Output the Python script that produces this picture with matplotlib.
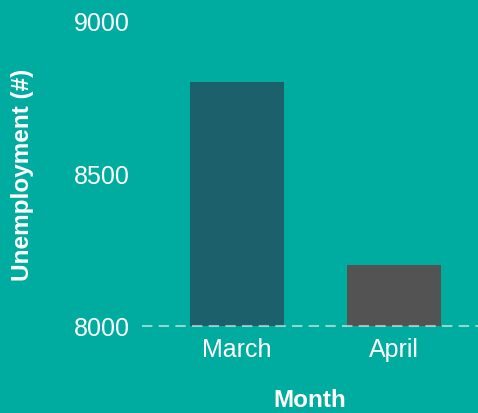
import matplotlib.pyplot as plt

# data
months = ['March', 'April']
unemployment = [8800, 8200]
bar_colors = ['#1c606b', '#535353']
y_ticks = [8000, 8500, 9000]

bg = '#00ab9f'
plt.rcParams['font.family'] = ['Liberation Sans', 'DejaVu Sans']

fig = plt.figure(figsize=(4.78, 4.14), dpi=100, facecolor=bg)
ax = fig.add_axes([142 / 478, 1 - 327 / 414, 1 - 142 / 478, (327 - 22) / 414])
ax.set_facecolor(bg)

x = range(len(months))
ax.bar(x, unemployment, width=0.6, color=bar_colors, zorder=2)
ax.axhline(8000, color='white', alpha=0.55, lw=1.5, ls=(0, (5, 3)), zorder=3, clip_on=False)

ax.set_ylim(8000, 9000)
ax.set_xlim(-0.605, 1.535)
ax.set_yticks(y_ticks)
ax.set_xticks(list(x))
ax.set_xticklabels(months)
ax.tick_params(length=0, labelsize=18, colors='white')
ax.tick_params(axis='y', pad=8.5)
ax.tick_params(axis='x', pad=8)

for s in ax.spines.values():
    s.set_visible(False)

ax.set_ylabel('Unemployment (#)', fontsize=17.5, fontweight='bold', color='white')
ax.set_xlabel('Month', fontsize=17.5, fontweight='bold', color='white')
ax.yaxis.set_label_coords(-108 / 336, 0.5)
ax.xaxis.set_label_coords(0.5, -62 / 305)

fig.savefig('out.png', dpi=100, facecolor=bg)
